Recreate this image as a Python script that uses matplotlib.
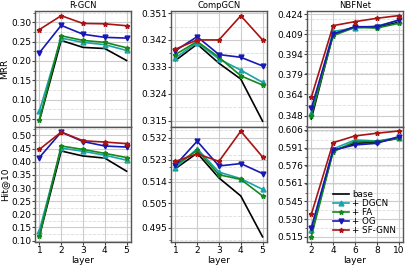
import numpy as np
import matplotlib
matplotlib.use('Agg')
import matplotlib.pyplot as plt
from matplotlib.ticker import AutoMinorLocator

# modelos y capas
models = ['R-GCN', 'CompGCN', 'NBFNet']
layers_rgcn = [1, 2, 3, 4, 5]
layers_comp = [1, 2, 3, 4, 5]
layers_nbf = [2, 4, 6, 8, 10]
methods = ['base', '+ DGCN', '+ FA', '+ OG', '+ SF-GNN']

# MRR
mrr_rgcn = {
    'base':     [0.045, 0.253, 0.235, 0.232, 0.201],
    '+ DGCN':   [0.070, 0.259, 0.248, 0.242, 0.227],
    '+ FA':     [0.047, 0.265, 0.253, 0.248, 0.234],
    '+ OG':     [0.221, 0.292, 0.269, 0.261, 0.259],
    '+ SF-GNN': [0.281, 0.317, 0.297, 0.296, 0.291],
}
mrr_comp = {
    'base':     [0.3351, 0.3406, 0.3342, 0.3289, 0.3148],
    '+ DGCN':   [0.3360, 0.3411, 0.3356, 0.3319, 0.3278],
    '+ FA':     [0.3371, 0.3415, 0.3362, 0.3300, 0.3269],
    '+ OG':     [0.3384, 0.3431, 0.3371, 0.3362, 0.3333],
    '+ SF-GNN': [0.3389, 0.3420, 0.3420, 0.3501, 0.3420],
}
mrr_nbf = {
    'base':     [0.3455, 0.4090, 0.4145, 0.4140, 0.4180],
    '+ DGCN':   [0.3497, 0.4110, 0.4135, 0.4150, 0.4190],
    '+ FA':     [0.3480, 0.4078, 0.4140, 0.4135, 0.4170],
    '+ OG':     [0.3535, 0.4090, 0.4145, 0.4145, 0.4195],
    '+ SF-GNN': [0.3617, 0.4153, 0.4183, 0.4208, 0.4228],
}

# Hit@10
hit_rgcn = {
    'base':     [0.116, 0.441, 0.422, 0.414, 0.364],
    '+ DGCN':   [0.138, 0.452, 0.440, 0.425, 0.406],
    '+ FA':     [0.116, 0.460, 0.447, 0.432, 0.416],
    '+ OG':     [0.416, 0.513, 0.477, 0.460, 0.456],
    '+ SF-GNN': [0.447, 0.513, 0.480, 0.475, 0.469],
}
hit_comp = {
    'base':     [0.5193, 0.5257, 0.5155, 0.5081, 0.4913],
    '+ DGCN':   [0.5196, 0.5275, 0.5179, 0.5152, 0.5108],
    '+ FA':     [0.5207, 0.5268, 0.5168, 0.5149, 0.5081],
    '+ OG':     [0.5207, 0.5306, 0.5204, 0.5214, 0.5173],
    '+ SF-GNN': [0.5223, 0.5254, 0.5223, 0.5347, 0.5241],
}
hit_nbf = {
    'base':     [0.5178, 0.5881, 0.5946, 0.5955, 0.5989],
    '+ DGCN':   [0.5207, 0.5898, 0.5975, 0.5966, 0.5995],
    '+ FA':     [0.5150, 0.5875, 0.5961, 0.5961, 0.5989],
    '+ OG':     [0.5227, 0.5889, 0.5932, 0.5946, 0.6003],
    '+ SF-GNN': [0.5340, 0.5952, 0.6009, 0.6032, 0.6051],
}

# ticks del eje y
yt_mrr = [[0.05, 0.10, 0.15, 0.20, 0.25, 0.30],
          [0.315, 0.324, 0.333, 0.342, 0.351],
          [0.348, 0.364, 0.379, 0.394, 0.409, 0.424]]
yt_hit = [[0.10, 0.15, 0.20, 0.25, 0.30, 0.35, 0.40, 0.45, 0.50],
          [0.495, 0.505, 0.514, 0.523, 0.532],
          [0.515, 0.530, 0.545, 0.561, 0.576, 0.591, 0.606]]
ylim_mrr = [(0.03, 0.33), (0.313, 0.3518), (0.3398, 0.4265)]
ylim_hit = [(0.093, 0.534), (0.489, 0.5366), (0.510, 0.6089)]
fmt_mrr = ['%.2f', '%.3f', '%.3f']
fmt_hit = ['%.2f', '%.3f', '%.3f']

colors = {'base': 'black', '+ DGCN': '#1aa3a8', '+ FA': '#14871e',
          '+ OG': '#1818b4', '+ SF-GNN': '#a81414'}
markers = {'base': '', '+ DGCN': '^', '+ FA': '*', '+ OG': 'v', '+ SF-GNN': '*'}

xs = [layers_rgcn, layers_comp, layers_nbf]
mrr = [mrr_rgcn, mrr_comp, mrr_nbf]
hit = [hit_rgcn, hit_comp, hit_nbf]

fig, axs = plt.subplots(2, 3, figsize=(4.07, 2.67), dpi=100, sharex='col')
fig.subplots_adjust(left=0.086, right=0.99, top=0.96, bottom=0.092,
                    wspace=0.417, hspace=0)

for j in range(3):
    for i, data in enumerate([mrr[j], hit[j]]):
        ax = axs[i, j]
        for m in methods:
            ax.plot(xs[j], data[m], color=colors[m], marker=markers[m],
                    markersize=3.5, linewidth=1.2, label=m)
        yt = [yt_mrr, yt_hit][i][j]
        f = [fmt_mrr, fmt_hit][i][j]
        ax.set_yticks(yt)
        ax.set_yticklabels([f % v for v in yt])
        ax.set_ylim([ylim_mrr, ylim_hit][i][j])
        ax.yaxis.set_minor_locator(AutoMinorLocator(2))
        ax.grid(True, which='major', color='#cccccc', linewidth=0.8)
        ax.grid(True, which='minor', axis='y', color='#dddddd',
                linestyle='--', linewidth=0.6)
        ax.tick_params(labelsize=6.5, length=2, pad=0.8, color='#444444')
        ax.tick_params(which='minor', length=1.2, color='#444444')
        for s in ax.spines.values():
            s.set_color('#555555')
            s.set_linewidth(1.0)
    axs[0, j].set_title(models[j], fontsize=6, pad=2)
    axs[1, j].set_xticks(xs[j])
    axs[1, j].set_xlabel('layer', fontsize=6.5, labelpad=0.5)

axs[0, 0].set_ylabel('MRR', fontsize=6.5, labelpad=1.5)
axs[1, 0].set_ylabel('Hit@10', fontsize=6.5, labelpad=1.5)

axs[1, 2].legend(loc='lower right', fontsize=6.3, frameon=False,
                 handlelength=1.8, labelspacing=0.0, borderpad=0.3,
                 handletextpad=0.4, bbox_to_anchor=(1.0, 0.0))

plt.savefig('out.png', dpi=100)
